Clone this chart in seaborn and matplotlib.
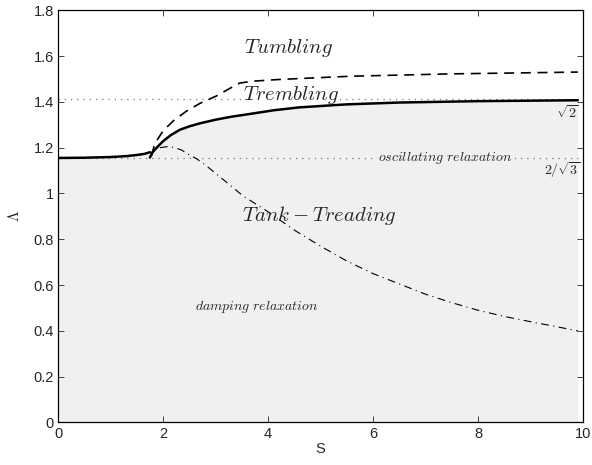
import numpy as np
import matplotlib
matplotlib.use("Agg")
import matplotlib.pyplot as plt
import seaborn as sns
import pandas as pd

# ---- data ----
solid_left_S = [0.0, 0.5, 1.0, 1.3, 1.5, 1.65, 1.75]
solid_left_L = [1.155, 1.156, 1.159, 1.163, 1.168, 1.173, 1.180]

solid_right_S = [1.75, 1.8, 1.9, 2.0, 2.15, 2.32, 2.5, 2.7, 3.0, 3.3, 3.65, 4.1, 4.6,
                 5.5, 6.5, 8.0, 9.9]
solid_right_L = [1.157, 1.180, 1.205, 1.228, 1.255, 1.278, 1.293, 1.306, 1.322, 1.335,
                 1.347, 1.363, 1.376, 1.389, 1.397, 1.403, 1.407]

dashed_S = [1.78, 1.84, 1.92, 2.0, 2.2, 2.45, 2.7, 3.02, 3.25, 3.46, 3.7, 4.16, 5.0,
            5.6, 7.45, 9.9]
dashed_L = [1.165, 1.215, 1.245, 1.273, 1.318, 1.36, 1.393, 1.426, 1.456, 1.482, 1.49,
            1.497, 1.506, 1.512, 1.522, 1.53]

dashdot_S = [1.94, 2.1, 2.22, 2.35, 2.47, 2.65, 2.83, 3.15, 3.52, 4.0, 4.5, 5.0, 5.5,
             6.0, 6.5, 7.0, 7.5, 8.0, 8.5, 9.0, 9.5, 9.9]
dashdot_L = [1.20, 1.205, 1.20, 1.19, 1.173, 1.15, 1.12, 1.06, 0.99, 0.92, 0.84, 0.77,
             0.705, 0.65, 0.605, 0.56, 0.523, 0.49, 0.463, 0.44, 0.418, 0.40]

sqrt2 = np.sqrt(2.0)
two_over_sqrt3 = 2.0 / np.sqrt(3.0)

x_ticks = [0, 2, 4, 6, 8, 10]
y_ticks = [0, 0.2, 0.4, 0.6, 0.8, 1.0, 1.2, 1.4, 1.6, 1.8]
y_tick_labels = ["0", "0.2", "0.4", "0.6", "0.8", "1", "1.2", "1.4", "1.6", "1.8"]

# ---- style ----
sns.set_style("ticks")
plt.rcParams["font.family"] = ["Liberation Sans", "DejaVu Sans"]
plt.rcParams["mathtext.fontset"] = "cm"

fig = plt.figure(figsize=(5.92, 4.65), dpi=100)
ax = fig.add_axes([0.098, 0.0914, 0.887, 0.8866])

fill_color = "#f0f0f0"

# fill under the solid boundary
fill_S = solid_left_S + solid_right_S[2:]
fill_L = solid_left_L + solid_right_L[2:]
ax.fill_between(fill_S, 0, fill_L, color=fill_color, lw=0, zorder=0)

# dotted reference lines
ax.axhline(sqrt2, color="#777777", lw=0.9, ls=(0, (1, 4)), zorder=1)
ax.axhline(two_over_sqrt3, color="#777777", lw=0.9, ls=(0, (1, 4)), zorder=1)

df_sl = pd.DataFrame({"S": solid_left_S, "L": solid_left_L})
df_sr = pd.DataFrame({"S": solid_right_S, "L": solid_right_L})
df_d = pd.DataFrame({"S": dashed_S, "L": dashed_L})
df_dd = pd.DataFrame({"S": dashdot_S, "L": dashdot_L})

sns.lineplot(data=df_sl, x="S", y="L", ax=ax, color="black", lw=1.8, sort=False,
             zorder=3, solid_joinstyle="round")
sns.lineplot(data=df_sr, x="S", y="L", ax=ax, color="black", lw=1.8, sort=False,
             zorder=3, solid_joinstyle="round")
sns.lineplot(data=df_d, x="S", y="L", ax=ax, color="black", lw=1.2, sort=False,
             zorder=3, linestyle=(0, (6, 4)))
sns.lineplot(data=df_dd, x="S", y="L", ax=ax, color="black", lw=0.8, sort=False,
             zorder=3, linestyle=(0, (7, 4, 1, 4)))

# region labels
ax.text(4.39, 1.635, r"$Tumbling$", fontsize=15, ha="center", va="center", zorder=4)
ax.text(4.44, 1.43, r"$Trembling$", fontsize=15, ha="center", va="center", zorder=2,
        bbox=dict(facecolor="white", edgecolor="none", pad=0.5))
ax.text(4.98, 0.903, r"$Tank-Treading$", fontsize=15, ha="center", va="center", zorder=4)
ax.text(3.78, 0.504, r"$damping\ relaxation$", fontsize=10, ha="center", va="center", zorder=4)
ax.text(7.37, 1.157, r"$oscillating\ relaxation$", fontsize=10, ha="center", va="center",
        zorder=2, bbox=dict(facecolor=fill_color, edgecolor="none", pad=1))
ax.text(9.7, 1.353, r"$\sqrt{2}$", fontsize=10, ha="center", va="center", zorder=4)
ax.text(9.6, 1.10, r"$2/\sqrt{3}$", fontsize=10, ha="center", va="center", zorder=4)

ax.set_xlim(0, 10)
ax.set_ylim(0, 1.8)
ax.set_xticks(x_ticks)
ax.set_xticklabels([str(t) for t in x_ticks])
ax.set_yticks(y_ticks)
ax.set_yticklabels(y_tick_labels)
ax.tick_params(direction="in", top=True, right=True, length=4, width=0.6,
               labelsize=10.5, pad=3)
for sp in ax.spines.values():
    sp.set_visible(True)
    sp.set_linewidth(0.9)
    sp.set_color("black")

ax.set_xlabel("S", fontsize=10.5, labelpad=1)
ax.set_ylabel(r"$\Lambda$", fontsize=11, labelpad=8, fontfamily="DejaVu Sans")

fig.savefig("out.png", dpi=100)
